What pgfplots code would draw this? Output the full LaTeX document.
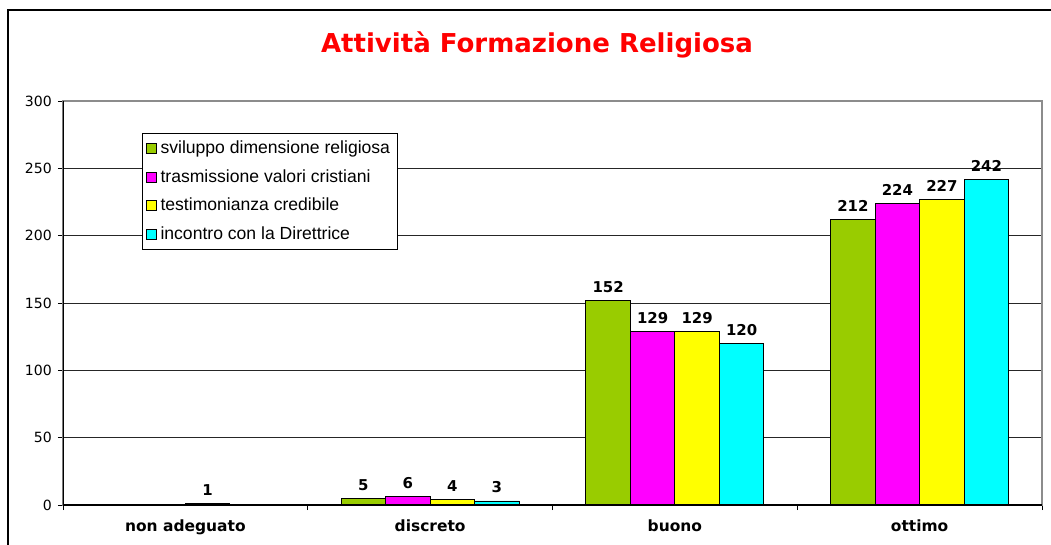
\documentclass[border=0pt]{standalone}
\usepackage{fontspec}
\setmainfont{DejaVu Sans}
\newfontfamily\legfont{Liberation Sans}
\usepackage{pgfplots}
\pgfplotsset{compat=1.18}
\definecolor{serGreen}{RGB}{153,204,0}
\definecolor{serMagenta}{RGB}{255,0,255}
\definecolor{serYellow}{RGB}{255,255,0}
\definecolor{serCyan}{RGB}{0,255,255}
\definecolor{titleRed}{RGB}{255,0,0}

\begin{document}
\begin{tikzpicture}
\useasboundingbox (-1.26,-0.78) rectangle (19.76,10.10);
\begin{scope}
  \clip (-1.26,-0.78) rectangle (19.76,10.10);
  \draw[line width=1.2pt] (-1.10,-1) -- (-1.10,9.90) -- (21,9.90);
\end{scope}
\node[font=\bfseries\fontsize{14.8}{17}\selectfont, text=titleRed] at (9.48,9.2) {Attività Formazione Religiosa};
\begin{axis}[
  at={(0,0)}, anchor=south west,
  scale only axis, width=19.58cm, height=8.08cm,
  xmin=-0.5, xmax=3.5, ymin=0, ymax=300,
  ybar=0pt, bar width=0.89cm,
  xtick={-0.5,0.5,1.5,2.5,3.5}, xticklabels={},
  extra x ticks={0,1,2,3},
  extra x tick labels={non adeguato,discreto,buono,ottimo},
  extra x tick style={major tick length=0pt, grid=none,
    tick label style={font=\bfseries\fontsize{8.8}{10}\selectfont, yshift=-5pt}},
  ytick={0,50,...,300},
  tick align=outside, tick pos=left,
  major tick length=0.1cm,
  ymajorgrids, grid style={black!85,line width=0.5pt},
  axis line style={black!45,line width=0.8pt},
  tick style={black,line width=0.5pt},
  yticklabel style={font=\fontsize{8}{10}\selectfont},
  /pgf/number format/assume math mode=true,
  every axis plot/.append style={draw=black, line width=0.5pt},
  nodes near coords,
  nodes near coords style={font=\bfseries\fontsize{8.5}{10}\selectfont, black, yshift=1pt},
  legend style={at={(0.0807,0.921)}, anchor=north west, draw=black,
    line width=0.5pt, font=\legfont\fontsize{10}{11}\selectfont,
    row sep=3.5pt, inner sep=2.2pt},
  legend cell align=left,
  legend image code/.code={\draw[#1,line width=0.4pt] (0cm,-0.1cm) rectangle (0.2cm,0.1cm);},
]
\addplot[fill=serGreen] coordinates {(1,5) (2,152) (3,212)};
\addplot[fill=serMagenta] coordinates {(1,6) (2,129) (3,224)};
\addplot[fill=serYellow] coordinates {(0,1) (1,4) (2,129) (3,227)};
\addplot[fill=serCyan] coordinates {(1,3) (2,120) (3,242)};
\legend{sviluppo dimensione religiosa,trasmissione valori cristiani,testimonianza credibile,incontro con la Direttrice}
\draw[black,line width=0.8pt] (rel axis cs:0,1) -- (rel axis cs:0,0) -- (rel axis cs:1,0);
\end{axis}
\end{tikzpicture}
\end{document}
